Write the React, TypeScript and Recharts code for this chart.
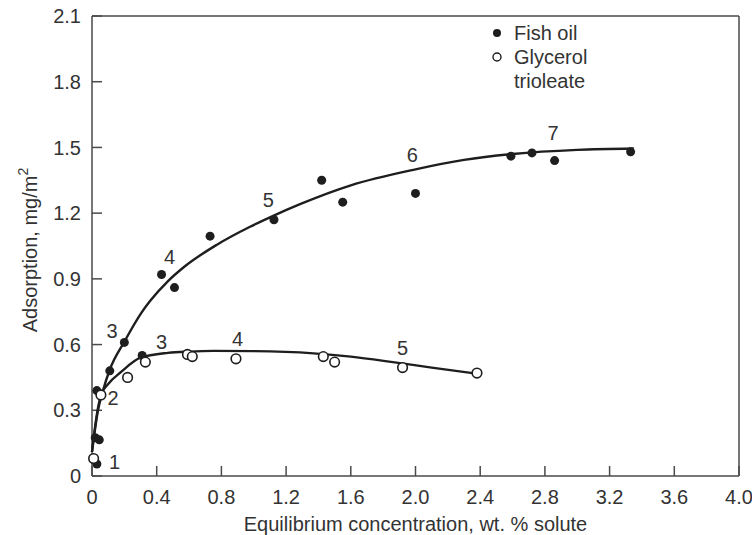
import { ReferenceLine, Scatter, ScatterChart, XAxis, YAxis } from "recharts";

const FONT = "'Liberation Sans', Arial, sans-serif";
const INK = "#1e1e1e";
const AXIS = "#4a4a4a";
const TEXT = "#333";
const FS = 20;

const X_TICKS = [0, 0.4, 0.8, 1.2, 1.6, 2.0, 2.4, 2.8, 3.2, 3.6, 4.0];
const Y_TICKS = [0, 0.3, 0.6, 0.9, 1.2, 1.5, 1.8, 2.1];

// measured points
const fishOil = [
  { x: 0.03, y: 0.055 },
  { x: 0.02, y: 0.175 },
  { x: 0.045, y: 0.165 },
  { x: 0.03, y: 0.39 },
  { x: 0.11, y: 0.48 },
  { x: 0.2, y: 0.61 },
  { x: 0.31, y: 0.55 },
  { x: 0.43, y: 0.92 },
  { x: 0.51, y: 0.86 },
  { x: 0.73, y: 1.095 },
  { x: 1.125, y: 1.17 },
  { x: 1.42, y: 1.35 },
  { x: 1.55, y: 1.25 },
  { x: 2.0, y: 1.29 },
  { x: 2.59, y: 1.46 },
  { x: 2.72, y: 1.475 },
  { x: 2.86, y: 1.44 },
  { x: 3.33, y: 1.48 },
];

const glycerol = [
  { x: 0.01, y: 0.08 },
  { x: 0.055, y: 0.37 },
  { x: 0.22, y: 0.45 },
  { x: 0.33, y: 0.52 },
  { x: 0.59, y: 0.555 },
  { x: 0.62, y: 0.545 },
  { x: 0.89, y: 0.535 },
  { x: 1.43, y: 0.545 },
  { x: 1.5, y: 0.52 },
  { x: 1.92, y: 0.495 },
  { x: 2.38, y: 0.47 },
];

// hand-drawn fit curves
const fishCurve = [
  { x: 0.0, y: 0.11 },
  { x: 0.037, y: 0.3 },
  { x: 0.068, y: 0.39 },
  { x: 0.109, y: 0.484 },
  { x: 0.2, y: 0.613 },
  { x: 0.305, y: 0.745 },
  { x: 0.36, y: 0.8 },
  { x: 0.47, y: 0.89 },
  { x: 0.565, y: 0.952 },
  { x: 0.77, y: 1.055 },
  { x: 0.977, y: 1.138 },
  { x: 1.1, y: 1.181 },
  { x: 1.286, y: 1.241 },
  { x: 1.6, y: 1.327 },
  { x: 2.0, y: 1.4 },
  { x: 2.3, y: 1.443 },
  { x: 2.6, y: 1.47 },
  { x: 3.0, y: 1.489 },
  { x: 3.35, y: 1.495 },
];

const glycerolCurve = [
  { x: 0.0, y: 0.11 },
  { x: 0.03, y: 0.28 },
  { x: 0.056, y: 0.37 },
  { x: 0.1, y: 0.42 },
  { x: 0.18, y: 0.475 },
  { x: 0.3, y: 0.54 },
  { x: 0.47, y: 0.562 },
  { x: 0.6, y: 0.568 },
  { x: 0.75, y: 0.571 },
  { x: 1.0, y: 0.57 },
  { x: 1.37, y: 0.56 },
  { x: 1.6, y: 0.545 },
  { x: 1.86, y: 0.52 },
  { x: 2.1, y: 0.495 },
  { x: 2.4, y: 0.465 },
];

const curveLabels = [
  { x: 0.14, y: 0.064, text: "1" },
  { x: 0.13, y: 0.356, text: "2" },
  { x: 0.124, y: 0.66, text: "3" },
  { x: 0.43, y: 0.61, text: "3" },
  { x: 0.48, y: 1.0, text: "4" },
  { x: 0.9, y: 0.625, text: "4" },
  { x: 1.09, y: 1.26, text: "5" },
  { x: 1.92, y: 0.585, text: "5" },
  { x: 1.98, y: 1.466, text: "6" },
  { x: 2.85, y: 1.566, text: "7" },
];

const fmt = (v: number) => (v === 0 ? "0" : v.toFixed(1));

const FilledDot = (p: any) => <circle cx={p.cx} cy={p.cy} r={4.5} fill={INK} />;
const OpenDot = (p: any) => (
  <circle cx={p.cx} cy={p.cy} r={4.8} fill="#fff" stroke={INK} strokeWidth={1.6} />
);
const NoDot = () => <g />;
const NumberLabel = (p: any) => (
  <text
    x={p.cx}
    y={p.cy}
    textAnchor="middle"
    dominantBaseline="central"
    fontSize={FS}
    fontFamily={FONT}
    fill={TEXT}
  >
    {p.payload.text}
  </text>
);

const YTitle = (props: any) => {
  const { y, height } = props.viewBox;
  const cy = y + height / 2 + 4;
  return (
    <text
      x={30}
      y={cy}
      transform={`rotate(-90 30 ${cy})`}
      textAnchor="middle"
      dominantBaseline="central"
      fontSize={FS}
      fontFamily={FONT}
      fill={TEXT}
    >
      Adsorption, mg/m
      <tspan dy={-7} fontSize={14}>
        2
      </tspan>
    </text>
  );
};

export default function App() {
  const tickStyle = { fontSize: FS, fontFamily: FONT, fill: TEXT };
  return (
    <div style={{ position: "absolute", left: 0, top: 0, width: 752, height: 535, background: "#fff" }}>
      <ScatterChart width={752} height={535} margin={{ top: 16, right: 13, bottom: 0, left: 0 }}>
        <XAxis
          type="number"
          dataKey="x"
          domain={[0, 4]}
          ticks={X_TICKS}
          tickFormatter={fmt}
          height={59}
          tickSize={-10}
          tickMargin={24}
          tick={tickStyle}
          stroke={AXIS}
          strokeWidth={1.5}
          label={{
            value: "Equilibrium concentration, wt. % solute",
            position: "insideBottom",
            offset: 4,
            style: { fontSize: FS, fontFamily: FONT, fill: TEXT },
          }}
        />
        <YAxis
          type="number"
          dataKey="y"
          domain={[0, 2.1]}
          ticks={Y_TICKS}
          tickFormatter={fmt}
          width={92}
          tickSize={-10}
          tickMargin={21}
          tick={tickStyle}
          stroke={AXIS}
          strokeWidth={1.5}
          label={<YTitle />}
        />
        <ReferenceLine y={2.1} stroke={AXIS} strokeWidth={1.5} />
        <ReferenceLine x={4} stroke={AXIS} strokeWidth={1.5} />
        <Scatter
          data={fishCurve}
          line={{ stroke: INK, strokeWidth: 2.4 }}
          lineJointType="monotoneX"
          shape={NoDot}
          isAnimationActive={false}
        />
        <Scatter
          data={glycerolCurve}
          line={{ stroke: INK, strokeWidth: 2.4 }}
          lineJointType="monotoneX"
          shape={NoDot}
          isAnimationActive={false}
        />
        <Scatter data={fishOil} shape={FilledDot} isAnimationActive={false} />
        <Scatter data={glycerol} shape={OpenDot} isAnimationActive={false} />
        <Scatter data={curveLabels} shape={NumberLabel} isAnimationActive={false} />
      </ScatterChart>
      <div
        style={{
          position: "absolute",
          left: 490,
          top: 21,
          fontFamily: FONT,
          fontSize: FS,
          color: TEXT,
          lineHeight: "24px",
        }}
      >
        <div style={{ display: "flex", alignItems: "center" }}>
          <svg width={24} height={24}>
            <circle cx={7} cy={12} r={4} fill={INK} />
          </svg>
          <span>Fish oil</span>
        </div>
        <div style={{ display: "flex", alignItems: "flex-start" }}>
          <svg width={24} height={24}>
            <circle cx={7} cy={12} r={4} fill="#fff" stroke={INK} strokeWidth={1.4} />
          </svg>
          <span>
            Glycerol
            <br />
            trioleate
          </span>
        </div>
      </div>
    </div>
  );
}
